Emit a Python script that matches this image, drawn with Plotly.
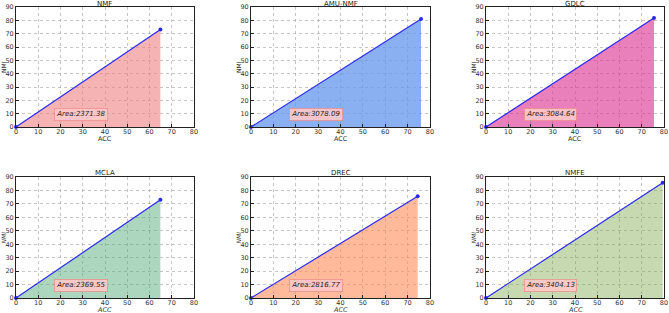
import plotly.graph_objects as go

methods = ["NMF", "AMU-NMF", "GDLC", "MCLA", "DREC", "NMFE"]
acc = [64.9, 76.0, 75.5, 64.9, 74.5, 79.4]
nmi = [73.1, 81.0, 81.7, 73.0, 75.6, 85.7]
area_labels = ["Area:2371.38", "Area:3078.09", "Area:3084.64", "Area:2369.55", "Area:2816.77", "Area:3404.13"]
fill_colors = ["rgba(240,128,128,0.6)", "rgba(100,149,237,0.75)", "rgba(222,60,150,0.65)",
               "rgba(90,175,125,0.5)", "rgba(255,140,90,0.6)", "rgba(130,170,80,0.45)"]
x_ticks = [0, 10, 20, 30, 40, 50, 60, 70, 80]
y_ticks = [0, 10, 20, 30, 40, 50, 60, 70, 80, 90]

W, H = 669, 313
col_px = [(16, 194), (251, 430), (486, 664)]
row_px = [(7, 127), (177, 298)]

fig = go.Figure()
FONT = "DejaVu Sans"
annotations = []
for i, m in enumerate(methods):
    r, c = divmod(i, 3)
    x0, x1 = col_px[c]
    y0, y1 = row_px[r]
    xd = [x0 / W, x1 / W]
    yd = [1 - y1 / H, 1 - y0 / H]
    k = "" if i == 0 else str(i + 1)
    xa = "x" + k
    ya = "y" + k
    fig.add_trace(go.Scatter(
        x=[0, acc[i]], y=[0, nmi[i]], mode="lines+markers",
        line=dict(color="#2a2aee", width=1.2),
        marker=dict(color="#2a2aee", size=4),
        fill="tozeroy", fillcolor=fill_colors[i],
        xaxis=xa, yaxis=ya, showlegend=False, cliponaxis=False))
    ax = dict(domain=xd, range=[0, 80], tickvals=x_ticks, showgrid=True,
              gridcolor="rgba(150,150,150,0.55)", griddash="3px,3px", gridwidth=0.7,
              showline=True, linecolor="#222", linewidth=1, mirror=True,
              ticks="inside", ticklen=3, tickcolor="#222", zeroline=False,
              tickfont=dict(size=6.5, family=FONT, color="#333"), ticklabelstandoff=-2,
              anchor=ya, fixedrange=True, automargin=False)
    ay = dict(domain=yd, range=[0, 90], tickvals=y_ticks, showgrid=True,
              gridcolor="rgba(150,150,150,0.55)", griddash="3px,3px", gridwidth=0.7,
              showline=True, linecolor="#222", linewidth=1, mirror=True,
              ticks="inside", ticklen=3, tickcolor="#222", zeroline=False,
              tickfont=dict(size=6.5, family=FONT, color="#333"),
              anchor=xa, fixedrange=True, automargin=False)
    fig.layout["xaxis" + k] = ax
    fig.layout["yaxis" + k] = ay
    it0, it1 = ("<i>", "</i>") if r == 1 else ("", "")
    tcy = max(y0 - 4, 4)
    annotations.append(dict(text=m, x=(xd[0] + xd[1]) / 2, y=1 - tcy / H,
                            xref="paper", yref="paper", xanchor="center", yanchor="middle",
                            showarrow=False, font=dict(size=7, family=FONT, color="#222")))
    annotations.append(dict(text=it0 + "ACC" + it1, x=(xd[0] + xd[1]) / 2, y=1 - (y1 + 12) / H,
                            xref="paper", yref="paper", xanchor="center", yanchor="middle",
                            showarrow=False, font=dict(size=6.5, family=FONT, color="#333")))
    annotations.append(dict(text=it0 + "NMI" + it1, x=(x0 - 13) / W, y=(yd[0] + yd[1]) / 2,
                            xref="paper", yref="paper", xanchor="center", yanchor="middle",
                            textangle=-90, showarrow=False,
                            font=dict(size=6, family=FONT, color="#333")))
    annotations.append(dict(text="<i>" + area_labels[i] + "</i>", x=17, y=9, xref=xa, yref=ya,
                            xanchor="left", yanchor="middle", showarrow=False,
                            bgcolor="rgba(255,200,200,0.9)", bordercolor="rgba(235,130,130,0.8)",
                            borderwidth=0.8, borderpad=1.5,
                            font=dict(size=7, family=FONT, color="#222")))

fig.update_layout(width=W, height=H, margin=dict(l=0, r=0, t=0, b=0, autoexpand=False),
                  paper_bgcolor="white", plot_bgcolor="white",
                  annotations=annotations)
fig.write_html("out.html", config={"displayModeBar": False},
               post_script="document.body.style.margin='0';document.body.style.overflow='hidden';")
